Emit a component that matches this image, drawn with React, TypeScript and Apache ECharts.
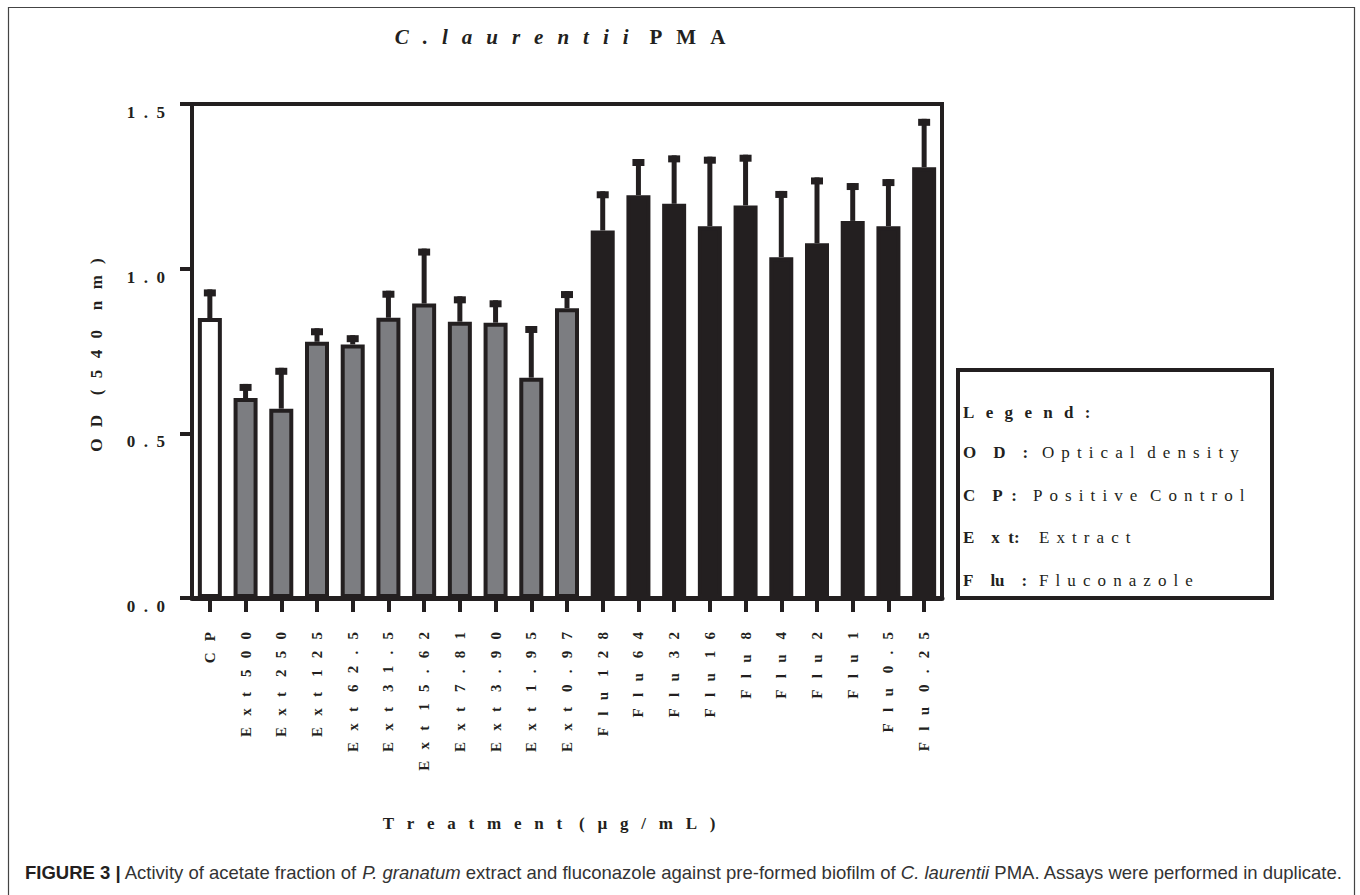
import React, { useEffect, useRef } from "react";
import * as echarts from "echarts";

// ---------- data ----------
const categories = [
  "CP",
  "Ext 500", "Ext 250", "Ext 125", "Ext 62.5", "Ext 31.5", "Ext 15.62", "Ext 7.81", "Ext 3.90", "Ext 1.95", "Ext 0.97",
  "Flu 128", "Flu 64", "Flu 32", "Flu 16", "Flu 8", "Flu 4", "Flu 2", "Flu 1", "Flu 0.5", "Flu 0.25",
];
const groups = [
  "cp",
  "ext", "ext", "ext", "ext", "ext", "ext", "ext", "ext", "ext", "ext",
  "flu", "flu", "flu", "flu", "flu", "flu", "flu", "flu", "flu", "flu",
];
const meanOD = [
  0.850,
  0.607, 0.575, 0.778, 0.770, 0.851, 0.894, 0.839, 0.836, 0.669, 0.880,
  1.116, 1.223, 1.197, 1.129, 1.192, 1.035, 1.077, 1.145, 1.129, 1.308,
];
const sdOD = [
  0.087,
  0.043, 0.124, 0.041, 0.028, 0.082, 0.167, 0.077, 0.068, 0.157, 0.052,
  0.119, 0.110, 0.147, 0.211, 0.154, 0.201, 0.200, 0.115, 0.143, 0.147,
];
const yMin = 0;
const yMax = 1.5;
const yStep = 0.5;

const titleItalic = "C. laurentii";
const titlePlain = "PMA";
const yAxisTitle = "OD (540 nm)";
const xAxisTitle = "Treatment (µg/mL)";
const legendTitle = "Legend:";
const legendKeys = ["OD :", "CP:", "Ext:", "Flu :"];
const legendDescs = ["Optical density", "Positive Control", "Extract", "Fluconazole"];
const captionBold = "FIGURE 3 |";
const captionParts = [
  { t: " Activity of acetate fraction of ", s: "n" },
  { t: "P. granatum", s: "i" },
  { t: " extract and fluconazole against pre-formed biofilm of ", s: "n" },
  { t: "C. laurentii", s: "i" },
  { t: " PMA. Assays were performed in duplicate.", s: "n" },
];

// ---------- style ----------
const INK = "#231f20";
const GRAY = "#7c7d81";
const SERIF = '"Liberation Serif", "Times New Roman", serif';
const SANS = '"Liberation Sans", Arial, sans-serif';
const EM = "\u2003";
const EN = "\u2002";
const FOUR = "\u2005";
const SIX = "\u2006";

const spread = (s: string, gap: string, word: string) =>
  s.split(" ").map((w) => Array.from(w).join(gap)).join(word);

const fillFor = (g: string) => (g === "cp" ? "#ffffff" : g === "ext" ? GRAY : INK);

export default function App() {
  const ref = useRef<HTMLDivElement>(null);

  useEffect(() => {
    if (!ref.current) return;
    const chart = echarts.init(ref.current, null, { renderer: "svg" });

    const legendRows = [412, 452, 495, 537, 580];
    const descX = [1042, 1033, 1039, 1039];
    const keyStrings = [
      "O" + EM + "D" + EM + ":",
      "C" + EM + "P" + EN + ":",
      "E" + EM + "x" + EN + "t:",
      "F" + EM + "lu" + EM + ":",
    ];

    const graphic: any[] = [
      {
        type: "rect",
        silent: true,
        z: -10,
        shape: { x: 8.5, y: 7.5, width: 1346, height: 930 },
        style: { fill: "none", stroke: "#444", lineWidth: 1.2 },
      },
      {
        type: "text",
        x: 560,
        y: 37,
        style: {
          text:
            "{i|" + spread(titleItalic, EN + SIX, EN + SIX) + "}{b|" + EM + spread(titlePlain, EN + SIX, EM) + "}",
          textAlign: "center",
          textVerticalAlign: "middle",
          rich: {
            i: { fontFamily: SERIF, fontWeight: "bold", fontStyle: "italic", fontSize: 21, fill: INK },
            b: { fontFamily: SERIF, fontWeight: "bold", fontSize: 21, fill: INK },
          },
        },
      },
      {
        type: "text",
        x: 96,
        y: 355,
        rotation: Math.PI / 2,
        style: {
          text: spread(yAxisTitle, EN + SIX, EN + SIX + EN),
          fontFamily: SERIF,
          fontWeight: "bold",
          fontSize: 17,
          fill: INK,
          textAlign: "center",
          textVerticalAlign: "middle",
        },
      },
      {
        type: "text",
        x: 549,
        y: 823,
        style: {
          text: spread(xAxisTitle, EN + FOUR, EM),
          fontFamily: SERIF,
          fontWeight: "bold",
          fontSize: 17,
          fill: INK,
          textAlign: "center",
          textVerticalAlign: "middle",
        },
      },
      {
        type: "rect",
        shape: { x: 958, y: 370, width: 314, height: 228 },
        style: { fill: "#fff", stroke: INK, lineWidth: 4 },
      },
      {
        type: "text",
        x: 963,
        y: legendRows[0],
        style: {
          text: spread(legendTitle, EN + SIX, EM),
          fontFamily: SERIF,
          fontWeight: "bold",
          fontSize: 17,
          fill: INK,
          textAlign: "left",
          textVerticalAlign: "middle",
        },
      },
      {
        type: "text",
        x: 25,
        y: 872,
        style: {
          text:
            "{b|" + captionBold + "}" +
            captionParts.map((p) => "{" + p.s + "|" + p.t + "}").join(""),
          textAlign: "left",
          textVerticalAlign: "middle",
          rich: {
            b: { fontFamily: SANS, fontWeight: "bold", fontSize: 18.5, fill: INK },
            n: { fontFamily: SANS, fontSize: 18.5, fill: "#333" },
            i: { fontFamily: SANS, fontStyle: "italic", fontSize: 18.5, fill: "#333" },
          },
        },
      },
    ];

    legendKeys.forEach((k, i) => {
      graphic.push({
        type: "text",
        x: 963,
        y: legendRows[i + 1],
        style: {
          text: keyStrings[i],
          fontFamily: SERIF,
          fontWeight: "bold",
          fontSize: 17,
          fill: INK,
          textAlign: "left",
          textVerticalAlign: "middle",
        },
      });
      graphic.push({
        type: "text",
        x: descX[i],
        y: legendRows[i + 1],
        style: {
          text: spread(legendDescs[i], FOUR + SIX, EN + FOUR),
          fontFamily: SERIF,
          fontSize: 17,
          fill: INK,
          textAlign: "left",
          textVerticalAlign: "middle",
        },
      });
    });

    const option: any = {
      animation: false,
      backgroundColor: "#ffffff",
      grid: {
        left: 192,
        top: 104,
        width: 750,
        height: 494,
        show: true,
        borderColor: INK,
        borderWidth: 4,
        backgroundColor: "transparent",
      },
      xAxis: {
        type: "category",
        data: categories,
        axisLine: { show: true, lineStyle: { color: INK, width: 5 } },
        axisTick: { show: true, alignWithLabel: true, length: 14, lineStyle: { color: INK, width: 4 } },
        axisLabel: {
          interval: 0,
          rotate: 90,
          margin: 34,
          color: INK,
          fontFamily: SERIF,
          fontWeight: "bold",
          fontSize: 15,
          formatter: (v: string) => spread(v, EN + FOUR, EM),
        },
        splitLine: { show: false },
      },
      yAxis: {
        type: "value",
        min: yMin,
        max: yMax,
        interval: yStep,
        axisLine: { show: true, lineStyle: { color: INK, width: 4 } },
        axisTick: { show: true, length: 12, lineStyle: { color: INK, width: 4 } },
        axisLabel: {
          margin: 27,
          color: INK,
          fontFamily: SERIF,
          fontWeight: "bold",
          fontSize: 17,
          verticalAlign: "top",
          formatter: (v: number) => spread(v.toFixed(1), EN, EN),
        },
        splitLine: { show: false },
      },
      series: [
        {
          type: "bar",
          barWidth: 24,
          data: meanOD.map((v, i) => ({
            value: v,
            itemStyle: { color: fillFor(groups[i]), borderColor: INK, borderWidth: 4 },
          })),
        },
        {
          type: "custom",
          encode: { x: 0, y: [1, 2] },
          data: meanOD.map((v, i) => [i, v, v + sdOD[i]]),
          renderItem: (params: any, api: any) => {
            const base = api.coord([api.value(0), api.value(1)]);
            const top = api.coord([api.value(0), api.value(2)]);
            return {
              type: "group",
              children: [
                {
                  type: "rect",
                  shape: { x: base[0] - 2.5, y: top[1], width: 5, height: base[1] - top[1] },
                  style: { fill: INK },
                },
                {
                  type: "rect",
                  shape: { x: base[0] - 6, y: top[1], width: 12, height: 7 },
                  style: { fill: INK },
                },
              ],
            };
          },
        },
      ],
      graphic,
    };

    chart.setOption(option);
    return () => chart.dispose();
  }, []);

  return (
    <div
      ref={ref}
      style={{ position: "fixed", left: 0, top: 0, width: 1360, height: 895, background: "#fff" }}
    />
  );
}
